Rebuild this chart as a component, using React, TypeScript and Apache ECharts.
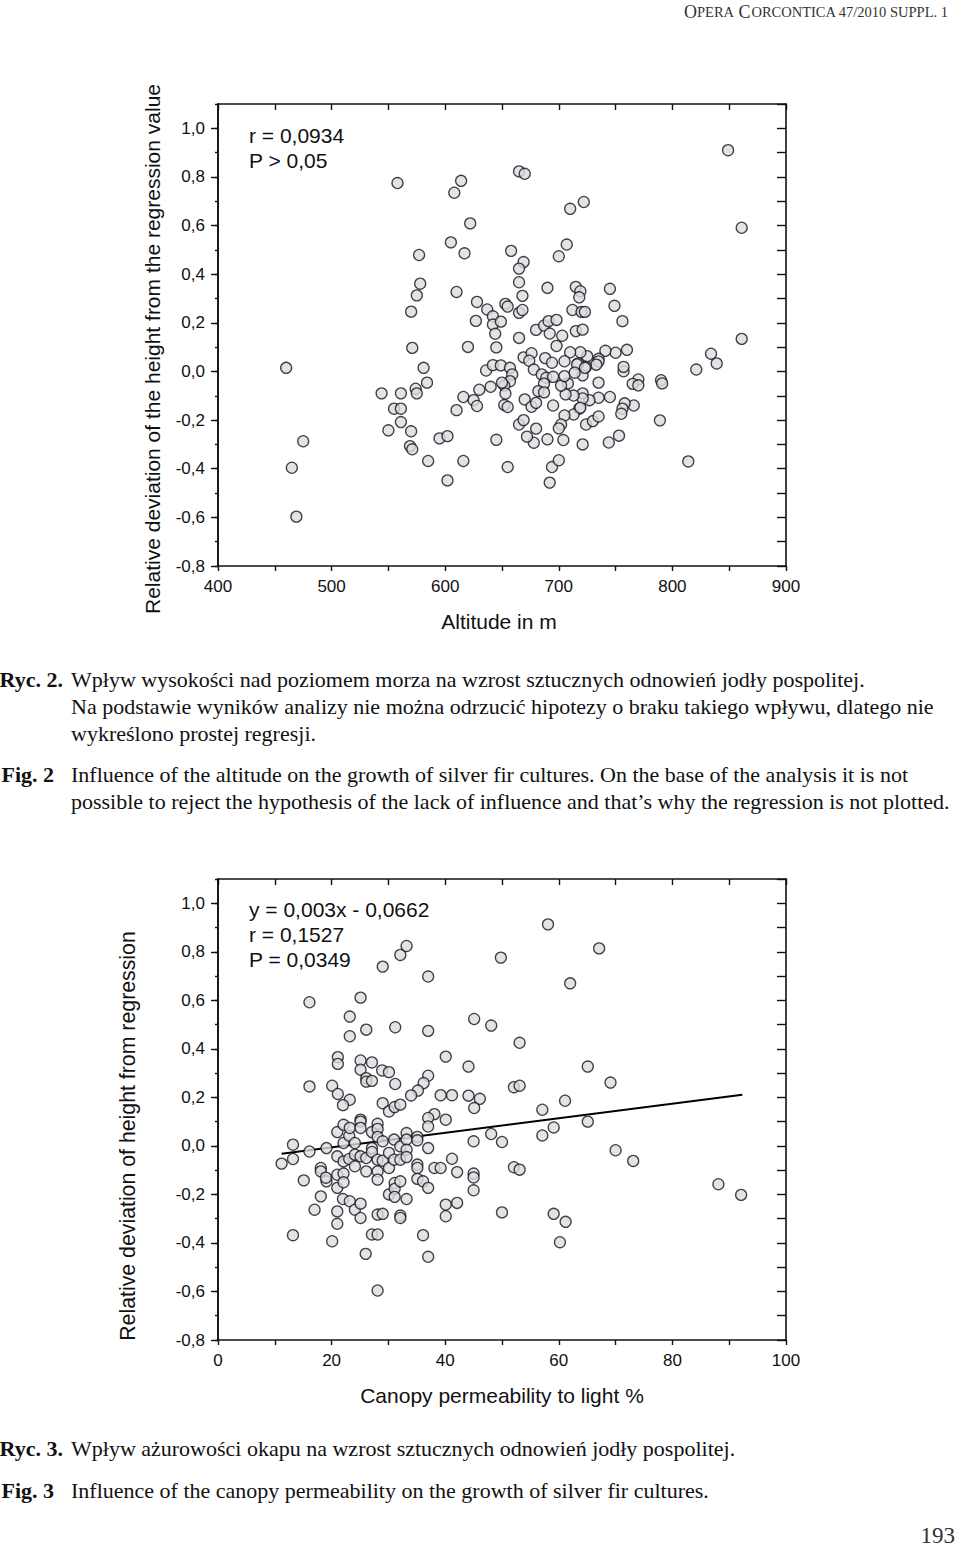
import React, { useEffect, useRef } from "react";
import * as echarts from "echarts";

// ---- Chart 1: altitude (m) vs relative deviation ----
const altitudeData: [number, number][] = [
  [558, 0.775], [614, 0.784], [608, 0.735], [622, 0.609], [605, 0.531], [617, 0.486],
  [577, 0.479], [578, 0.361], [575, 0.313], [610, 0.327], [570, 0.246], [628, 0.286],
  [637, 0.255], [642, 0.227], [642, 0.193], [627, 0.208], [644, 0.155], [649, 0.205],
  [849, 0.91], [861, 0.591], [861, 0.134], [665, 0.823], [670, 0.813], [710, 0.669],
  [722, 0.697], [707, 0.522], [700, 0.474], [658, 0.496], [669, 0.45], [665, 0.423],
  [665, 0.367], [668, 0.311], [690, 0.344], [715, 0.348], [719, 0.33], [718, 0.305],
  [745, 0.34], [749, 0.27], [756, 0.207], [653, 0.278], [655, 0.267], [665, 0.241],
  [668, 0.253], [712, 0.253], [720, 0.245], [723, 0.245], [680, 0.171], [687, 0.189],
  [691, 0.207], [698, 0.212], [692, 0.156], [703, 0.147], [715, 0.166], [721, 0.172],
  [665, 0.138], [698, 0.105],
  [460, 0.015], [475, -0.287], [465, -0.396], [469, -0.597], [544, -0.09], [555, -0.153],
  [561, -0.153], [561, -0.09], [550, -0.242], [561, -0.208], [570, -0.246], [569, -0.307],
  [571, -0.32], [571, 0.097], [581, 0.015], [584, -0.046], [574, -0.071], [575, -0.09],
  [585, -0.368], [595, -0.275], [602, -0.266], [602, -0.448], [616, -0.368], [610, -0.159],
  [616, -0.105], [620, 0.101], [625, -0.118], [628, -0.142], [630, -0.075], [636, 0.004],
  [640, -0.063], [642, 0.026], [645, 0.099], [645, -0.281], [649, 0.025],
  [655, -0.393], [657, 0.015], [659, -0.012], [657, -0.04], [652, -0.058], [653, -0.091],
  [652, -0.138], [655, -0.146], [650, -0.046],
  [669, 0.058], [676, 0.075], [674, 0.044], [688, 0.055], [694, 0.036], [678, 0.008],
  [685, -0.012], [689, -0.026], [695, -0.022], [687, -0.05], [682, -0.081], [687, -0.086],
  [834, 0.073], [839, 0.033], [821, 0.008], [790, -0.036], [791, -0.049], [789, -0.201],
  [814, -0.37], [770, -0.033], [765, -0.051], [770, -0.057], [766, -0.14], [758, -0.131],
  [756, -0.153], [755, -0.174], [757, 0.001], [757, 0.019], [760, 0.089], [750, 0.077],
  [741, 0.085], [735, 0.052], [735, 0.041], [733, 0.028], [725, 0.063], [724, 0.019],
  [719, 0.079], [717, 0.033], [710, 0.079], [721, -0.016], [735, -0.046], [745, -0.105],
  [735, -0.108], [727, -0.118], [721, -0.09], [721, -0.111], [718, -0.153], [713, -0.099],
  [713, -0.177], [706, -0.094], [705, -0.181], [708, -0.049], [702, -0.058], [705, -0.019],
  [705, 0.042], [716, 0.029], [714, -0.005], [723, 0.015], [702, -0.218], [700, -0.234],
  [704, -0.282], [690, -0.279], [678, -0.293], [672, -0.268], [680, -0.235], [665, -0.218],
  [669, -0.2], [670, -0.115], [676, -0.145], [680, -0.129], [695, -0.14], [721, -0.3],
  [724, -0.218], [730, -0.204], [735, -0.185], [744, -0.292], [753, -0.264], [694, -0.393],
  [700, -0.365], [692, -0.457], [719, -0.149]
];

// ---- Chart 2: canopy permeability (%) vs relative deviation ----
const canopyData: [number, number][] = [
  [16.1, 0.592], [16.1, 0.245], [25.1, 0.611], [23.2, 0.533], [23.2, 0.452], [26.1, 0.479],
  [29.0, 0.739], [32.1, 0.787], [33.2, 0.824], [37.0, 0.698], [31.2, 0.489], [37.0, 0.474],
  [21.1, 0.366], [21.1, 0.338], [25.1, 0.352], [25.1, 0.314], [27.1, 0.344], [28.9, 0.311],
  [30.1, 0.304], [26.1, 0.279], [26.1, 0.265], [27.1, 0.268], [31.2, 0.255], [37.0, 0.289],
  [36.2, 0.259], [35.2, 0.228], [34.0, 0.208], [40.1, 0.368], [44.1, 0.327], [45.1, 0.523],
  [48.1, 0.496], [49.8, 0.776], [39.2, 0.209], [41.2, 0.209], [44.1, 0.207], [46.1, 0.194],
  [45.1, 0.156], [20.1, 0.248], [21.1, 0.214], [23.2, 0.19], [22.0, 0.168], [29.0, 0.176],
  [30.1, 0.142], [31.1, 0.16], [32.1, 0.17], [38.1, 0.131], [37.0, 0.115], [40.1, 0.108],
  [25.1, 0.108],
  [58.1, 0.913], [67.1, 0.814], [62.0, 0.67], [53.1, 0.425], [65.1, 0.327], [69.1, 0.261],
  [52.1, 0.242], [53.1, 0.248], [61.1, 0.186], [57.1, 0.149], [65.1, 0.1],
  [11.2, -0.073], [13.2, 0.005], [13.2, -0.054], [13.2, -0.368], [15.1, -0.142], [16.1, -0.023],
  [17.0, -0.263], [18.1, -0.091], [18.1, -0.105], [19.1, -0.009], [19.1, -0.146], [19.0, -0.131],
  [18.1, -0.208], [20.1, -0.393], [21.0, 0.057], [21.0, -0.043], [21.0, -0.119], [21.0, -0.173],
  [21.0, -0.27], [21.0, -0.321], [22.1, 0.087], [22.1, 0.012], [22.1, -0.064], [22.1, -0.114],
  [22.1, -0.15], [22.0, -0.219], [23.1, 0.042], [23.2, 0.074], [23.1, -0.054], [23.2, -0.228],
  [24.1, 0.012], [24.1, -0.036], [24.1, -0.084], [24.1, -0.263], [25.1, 0.1], [25.1, 0.074],
  [25.1, -0.043], [25.1, -0.238], [25.1, -0.297], [26.1, -0.105], [26.1, -0.05], [26.0, -0.445],
  [27.1, 0.057], [27.1, -0.009], [27.1, -0.025], [27.1, -0.365], [28.1, 0.091], [28.1, 0.07],
  [28.1, 0.037], [28.1, -0.057], [28.1, -0.105], [28.1, -0.139], [28.1, -0.283], [28.1, -0.365],
  [28.1, -0.596], [29.0, 0.019], [29.0, -0.061], [29.0, -0.28], [30.1, -0.029], [30.1, -0.091],
  [30.1, -0.2], [31.0, 0.026], [31.0, -0.057], [31.1, -0.153], [31.1, -0.177], [31.1, -0.21],
  [32.1, -0.002], [32.1, -0.057], [32.1, -0.146], [32.1, -0.287], [32.1, -0.297], [33.2, 0.053],
  [33.2, 0.026], [33.2, -0.016], [33.2, -0.046], [33.2, -0.219], [35.1, 0.037], [35.1, 0.023],
  [35.1, -0.077], [35.1, -0.091], [35.1, -0.136], [36.1, -0.146], [36.1, -0.368], [37.0, 0.08],
  [37.0, -0.009], [37.0, -0.173], [37.0, -0.457], [38.1, -0.091], [39.2, -0.091], [40.1, -0.242],
  [40.1, -0.29], [41.2, -0.053], [42.1, -0.108], [42.1, -0.235], [45.0, 0.019], [45.0, -0.114],
  [45.0, -0.13], [45.0, -0.183], [48.1, 0.049], [50.0, 0.016], [50.0, -0.274],
  [59.1, 0.076], [57.1, 0.043], [52.1, -0.088], [53.1, -0.098], [70.0, -0.018], [73.1, -0.062],
  [88.1, -0.158], [92.1, -0.202], [59.1, -0.28], [61.2, -0.313], [60.2, -0.397]
];

// regression line end points as drawn (y = 0,003x - 0,0662)
const regressionLine: [number, number][] = [[11.2, -0.032], [92.3, 0.211]];

const altitudeXTicks = [400, 500, 600, 700, 800, 900];
const canopyXTicks = [0, 20, 40, 60, 80, 100];
const deviationTicks = [-0.8, -0.6, -0.4, -0.2, 0.0, 0.2, 0.4, 0.6, 0.8, 1.0];

const chart1Stats = ["r = 0,0934", "P > 0,05"];
const chart2Stats = ["y = 0,003x - 0,0662", "r = 0,1527", "P = 0,0349"];

const SANS = "'Liberation Sans', Arial, sans-serif";
const SERIF = "'Liberation Serif', 'Times New Roman', serif";
const INK = "#111111";

const fmt = (v: number) => v.toFixed(1).replace(".", ",");

function axisBase(gridIndex: number) {
  return {
    gridIndex,
    type: "value" as const,
    splitLine: { show: false },
    axisLine: { show: true, onZero: false, lineStyle: { color: INK, width: 1.6 } },
  };
}

export default function App() {
  const ref = useRef<HTMLDivElement>(null);

  useEffect(() => {
    if (!ref.current) return;
    const chart = echarts.init(ref.current, undefined, { renderer: "svg" });

    const xMin1 = altitudeXTicks[0];
    const xMax1 = altitudeXTicks[altitudeXTicks.length - 1];
    const xMin2 = canopyXTicks[0];
    const xMax2 = canopyXTicks[canopyXTicks.length - 1];
    const yMin = deviationTicks[0];
    const yMax = 1.1;

    const xBottom = (gi: number, min: number, max: number, interval: number) => ({
      ...axisBase(gi),
      position: "bottom" as const,
      min, max, interval,
      axisTick: { show: true, inside: false, length: 5, lineStyle: { color: INK, width: 1.4 } },
      minorTick: { show: true, splitNumber: 2, length: 5, lineStyle: { color: INK, width: 1.4 } },
      axisLabel: { show: true, margin: 12, fontSize: 17, color: INK, fontFamily: SANS },
    });
    const xTop = (gi: number, min: number, max: number, interval: number) => ({
      ...axisBase(gi),
      position: "top" as const,
      min, max, interval,
      axisTick: { show: true, inside: true, length: 6, lineStyle: { color: INK, width: 1.4 } },
      axisLabel: { show: false },
    });
    const yLeftMajor = (gi: number) => ({
      ...axisBase(gi),
      position: "left" as const,
      min: yMin, max: yMax, interval: 0.2,
      axisTick: { show: true, inside: false, length: 7, lineStyle: { color: INK, width: 1.4 } },
      axisLabel: {
        show: true, margin: 13, fontSize: 17, color: INK, fontFamily: SANS,
        showMaxLabel: false,
        formatter: (v: number) => (deviationTicks.some((t) => Math.abs(t - v) < 1e-6) ? fmt(v) : ""),
      },
    });
    const yLeftMinor = (gi: number) => ({
      ...axisBase(gi),
      position: "left" as const,
      min: yMin, max: yMax, interval: 0.1,
      axisTick: { show: true, inside: false, length: 3, lineStyle: { color: INK, width: 1.4 } },
      axisLabel: { show: false },
    });
    const yRight = (gi: number) => ({
      ...axisBase(gi),
      position: "right" as const,
      min: yMin, max: yMax, interval: 0.1,
      axisTick: { show: true, inside: true, length: 9, lineStyle: { color: INK, width: 1.4 } },
      axisLabel: { show: false },
    });

    const symbolStyle = { color: "#dcdbe2", borderColor: "#141414", borderWidth: 1.3 };

    const text = (t: string, x: number, y: number, size: number, opts: any = {}) => ({
      type: "text",
      x, y,
      rotation: opts.rotation || 0,
      style: {
        text: t,
        fontSize: size,
        fontFamily: opts.family || SANS,
        fontWeight: opts.weight || "normal",
        fill: opts.fill || INK,
        align: opts.align || "left",
        verticalAlign: "middle",
        rich: opts.rich,
      },
      z: 100,
    });

    const graphics: any[] = [
      // running header (small caps)
      text("{a|O}{b|PERA} {a|C}{b|ORCONTICA 47/2010 SUPPL. 1}", 948, 12, 18, {
        align: "right", family: SERIF, fill: "#333",
        rich: {
          a: { fontSize: 18, fontFamily: SERIF, fill: "#333" },
          b: { fontSize: 14.5, fontFamily: SERIF, fill: "#333" },
        },
      }),
      // chart 1 stats
      ...chart1Stats.map((s, i) => text(s, 249, 135 + i * 25, 21)),
      // chart 1 axis titles
      text("Altitude in m", 499, 621, 21, { align: "center" }),
      text("Relative deviation of the height from the regression value", 152, 349, 21, {
        align: "center", rotation: Math.PI / 2,
      }),
      // captions fig 2
      text("Ryc. 2.", 63, 679, 22, { family: SERIF, weight: "bold", align: "right" }),
      text("Wpływ wysokości nad poziomem morza na wzrost sztucznych odnowień jodły pospolitej.", 71, 679, 22, { family: SERIF }),
      text("Na podstawie wyników analizy nie można odrzucić hipotezy o braku takiego wpływu, dlatego nie", 71, 706, 22, { family: SERIF }),
      text("wykreślono prostej regresji.", 71, 733, 22, { family: SERIF }),
      text("Fig. 2", 54, 774, 22, { family: SERIF, weight: "bold", align: "right" }),
      text("Influence of the altitude on the growth of silver fir cultures. On the base of the analysis it is not", 71, 774, 22, { family: SERIF }),
      text("possible to reject the hypothesis of the lack of influence and that’s why the regression is not plotted.", 71, 801, 22, { family: SERIF }),
      // chart 2 stats
      ...chart2Stats.map((s, i) => text(s, 249, 909 + i * 25, 21)),
      // chart 2 axis titles
      text("Canopy permeability to light %", 502, 1395, 21, { align: "center" }),
      text("Relative deviation of height from regression", 128, 1136, 21.3, {
        align: "center", rotation: Math.PI / 2,
      }),
      // captions fig 3
      text("Ryc. 3.", 63, 1448, 22, { family: SERIF, weight: "bold", align: "right" }),
      text("Wpływ ażurowości okapu na wzrost sztucznych odnowień jodły pospolitej.", 71, 1448, 22, { family: SERIF }),
      text("Fig. 3", 54, 1490, 22, { family: SERIF, weight: "bold", align: "right" }),
      text("Influence of the canopy permeability on the growth of silver fir cultures.", 71, 1490, 22, { family: SERIF }),
      // page number
      text("193", 955, 1535, 23, { family: SERIF, align: "right", fill: "#333" }),
    ];

    chart.setOption({
      animation: false,
      backgroundColor: "#ffffff",
      grid: [
        { left: 218, top: 104, width: 568, height: 462, containLabel: false },
        { left: 218, top: 879, width: 568, height: 461, containLabel: false },
      ],
      xAxis: [
        xBottom(0, xMin1, xMax1, 100),
        xTop(0, xMin1, xMax1, 50),
        xBottom(1, xMin2, xMax2, 20),
        xTop(1, xMin2, xMax2, 10),
      ],
      yAxis: [
        yLeftMajor(0), yLeftMinor(0), yRight(0),
        yLeftMajor(1), yLeftMinor(1), yRight(1),
      ],
      series: [
        {
          type: "scatter", xAxisIndex: 0, yAxisIndex: 0,
          data: altitudeData, symbol: "circle", symbolSize: 11,
          itemStyle: symbolStyle, z: 5,
        },
        {
          type: "line", xAxisIndex: 2, yAxisIndex: 3,
          data: regressionLine, symbol: "none",
          lineStyle: { color: "#000", width: 2 }, z: 4,
        },
        {
          type: "scatter", xAxisIndex: 2, yAxisIndex: 3,
          data: canopyData, symbol: "circle", symbolSize: 11,
          itemStyle: symbolStyle, z: 5,
        },
      ],
      graphic: graphics,
    });

    return () => chart.dispose();
  }, []);

  return (
    <div
      ref={ref}
      style={{ position: "absolute", left: 0, top: 0, width: 960, height: 1551, background: "#fff" }}
    />
  );
}
